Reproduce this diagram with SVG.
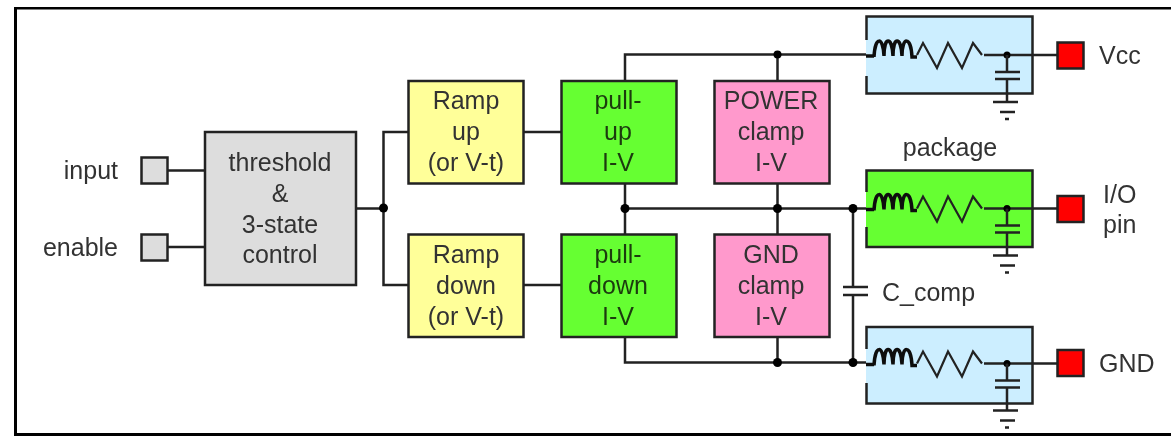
<svg xmlns="http://www.w3.org/2000/svg" width="1171" height="438" viewBox="0 0 1171 438">
<style>
.b{stroke:#222;stroke-width:2.5}
.w{fill:none;stroke:#222;stroke-width:2.5}
.r{fill:none;stroke:#222;stroke-width:2.2}
.l{fill:none;stroke:#111;stroke-width:3.5}
.d{fill:#000}
.yl{fill:#ffff99}.gn{fill:#66ff33}.pk{fill:#ff99cc}.gy{fill:#dddddd}.bl{fill:#cceeff}.rd{fill:#ff0000}
text{font-family:"Liberation Sans",Arial,sans-serif;font-size:25px;fill:#333}
.m{text-anchor:middle}
.e{text-anchor:end}
.k{fill:#1c3a10}
</style>
<defs>
<filter id="soft" x="0" y="0" width="100%" height="100%"><feGaussianBlur stdDeviation="0.7"/></filter>
<g id="rlc">
<path class="l" d="M866 1H874"/>
<path class="l" d="M874 2C875-19 883-19 884 1C884-19 892-19 893 1C893-19 901-19 902 1C902-19 911-19 912 2H917"/>
<path class="r" d="M917 0L923-12L937 13L948-12L962 13L973-12L982 0"/>
<path class="w" d="M984 0H1057"/>
<circle class="d" cx="1007" cy="0" r="3.5"/>
<path class="w" d="M1007 0V17M995 17H1020M995 24H1020M1007 24V47M993 47H1018M1000 57H1015M1005 64H1009"/>
</g>
</defs>
<g filter="url(#soft)">
<rect x="14.500" y="7" width="1200" height="428.500" fill="#fff" stroke="#000" stroke-width="5"/>
<g id="connectors">
<path class="w" d="M167 170.500H205M167 247H205M356 208.500H383.500M408 132H383.500V285H408M524 132H561M524 285H561"/>
<path class="w" d="M625 81V54.500H868M625 184V234M625 337V362.500H868M777.500 54.500V81M777.500 184V234M777.500 337V362.500M625 208.500H868M853 208.500V287M843 287H868M843 295H868M853 295V362.500"/>
<circle class="d" cx="383.500" cy="208" r="4.500"/>
<circle class="d" cx="777.500" cy="54.500" r="4"/>
<circle class="d" cx="625" cy="208.500" r="4.500"/>
<circle class="d" cx="777.500" cy="208.500" r="4.500"/>
<circle class="d" cx="853" cy="208.500" r="4.500"/>
<circle class="d" cx="777.500" cy="362.500" r="4.500"/>
<circle class="d" cx="853" cy="362.500" r="4.500"/>
</g>
<g id="input"><rect class="gy b" x="141.500" y="157.500" width="26" height="26"/><text class="e" x="118" y="179">input</text></g>
<g id="enable"><rect class="gy b" x="141.500" y="234.500" width="26" height="26"/><text class="e" x="118" y="256">enable</text></g>
<g id="threshold"><rect class="gy b" x="205" y="132" width="151" height="153"/>
<text class="m" x="280" y="171">threshold</text><text class="m" x="280" y="202">&amp;</text><text class="m" x="280" y="233">3-state</text><text class="m" x="280" y="263">control</text></g>
<g id="ramp-up"><rect class="yl b" x="408.500" y="81" width="115" height="102.500"/>
<text class="m" x="466" y="109">Ramp</text><text class="m" x="466" y="140">up</text><text class="m" x="466" y="171">(or V-t)</text></g>
<g id="ramp-down"><rect class="yl b" x="408.500" y="234.500" width="115" height="102.500"/>
<text class="m" x="466" y="263">Ramp</text><text class="m" x="466" y="294">down</text><text class="m" x="466" y="325">(or V-t)</text></g>
<g id="pull-up"><rect class="gn b" x="561.500" y="81" width="115" height="102.500"/>
<text class="m k" x="618" y="109">pull-</text><text class="m k" x="618" y="140">up</text><text class="m k" x="618" y="171">I-V</text></g>
<g id="pull-down"><rect class="gn b" x="561.500" y="234.500" width="115" height="102.500"/>
<text class="m k" x="618" y="263">pull-</text><text class="m k" x="618" y="294">down</text><text class="m k" x="618" y="325">I-V</text></g>
<g id="power-clamp"><rect class="pk b" x="714.500" y="81" width="115" height="102.500"/>
<text class="m" x="771" y="109">POWER</text><text class="m" x="771" y="140">clamp</text><text class="m" x="771" y="171">I-V</text></g>
<g id="gnd-clamp"><rect class="pk b" x="714.500" y="234.500" width="115" height="102.500"/>
<text class="m" x="771" y="263">GND</text><text class="m" x="771" y="294">clamp</text><text class="m" x="771" y="325">I-V</text></g>
<g id="pkg-vcc">
<rect class="bl" x="866" y="16" width="167" height="78"/>
<path class="w" d="M866.500 40V16.500H1032.500V93.500H866.500V76"/>
<use href="#rlc" y="55"/>
<rect class="rd b" x="1057.500" y="42.500" width="26" height="26"/><text x="1099" y="64">Vcc</text></g>
<g id="pkg-io">
<rect class="gn" x="866" y="170" width="167" height="77"/>
<path class="w" d="M866.500 192V170.500H1032.500V247H866.500V227"/>
<use href="#rlc" y="208.500"/>
<rect class="rd b" x="1057.500" y="196" width="26" height="26"/>
<text class="m" x="950" y="156">package</text>
<text x="1103" y="203">I/O</text><text x="1103" y="233">pin</text></g>
<g id="pkg-gnd">
<rect class="bl" x="866" y="327" width="167" height="77"/>
<path class="w" d="M866.500 349V327H1032.500V403.500H866.500V383"/>
<use href="#rlc" y="363.500"/>
<rect class="rd b" x="1057.500" y="350" width="26" height="26"/><text x="1099" y="372">GND</text></g>
<text x="882" y="301">C_comp</text>
</g>
</svg>
